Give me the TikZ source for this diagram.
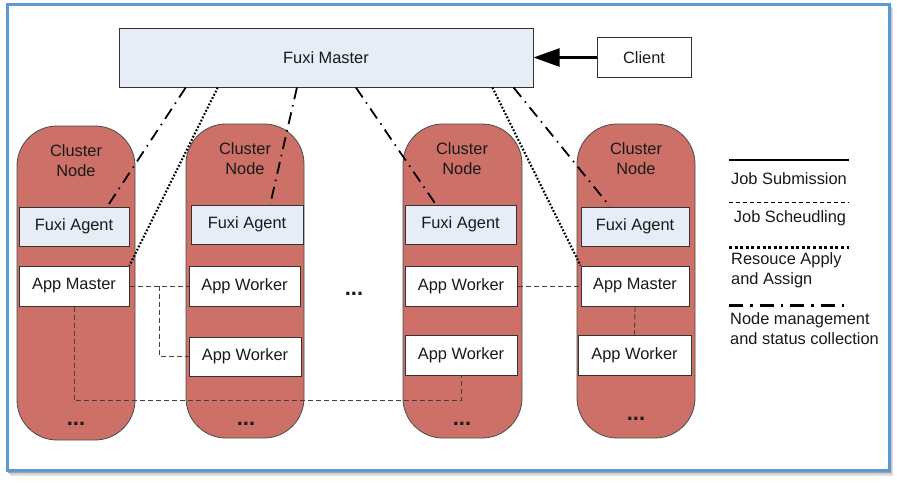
\documentclass[tikz,border=0pt]{standalone}
\usepackage{fontspec}
\setmainfont{Liberation Sans}
\usetikzlibrary{arrows.meta,calc}
\definecolor{frameblue}{RGB}{91,155,213}
\definecolor{capsulered}{RGB}{205,112,103}
\definecolor{lightblue}{RGB}{230,237,247}
\begin{document}
\begin{tikzpicture}[x=1pt,y=-1pt,
  every node/.style={font=\fontsize{16.4}{20}\selectfont, text=black!90, inner sep=0pt},
  capsule/.style={draw=black!70, line width=0.8pt, fill=capsulered, rounded corners=40pt, minimum width=118pt, minimum height=314pt},
  agentbox/.style={draw=black!80, line width=1pt, fill=lightblue, minimum height=39pt},
  appbox/.style={draw=black!80, line width=1pt, fill=white, minimum height=40pt},
  dots/.style={font=\fontsize{22}{22}\selectfont\bfseries, anchor=base},
  nodemgmt/.style={line width=1.8pt, dash pattern=on 12pt off 6pt on 1.5pt off 6pt},
  resapply/.style={line width=2.1pt, dash pattern=on 1.8pt off 1.8pt},
  jobsched/.style={line width=0.9pt, draw=black!75, dash pattern=on 5pt off 3pt},
  ]
\useasboundingbox (0,0) rectangle (897,482);
% frame shadow
\fill[black!12] (10,8) rectangle (893,476);
\fill[black!22] (9,7) rectangle (892,474);
\fill[black!35] (8,6) rectangle (891,472.5);
% frame
\draw[frameblue, line width=3pt, fill=white] (7,4) rectangle (889,470);

% master and client
\node[agentbox, minimum width=414pt, minimum height=59pt] (master) at (326,57.5) {Fuxi Master};
\node[appbox, minimum width=94pt, minimum height=40pt] (client) at (644,57.5) {Client};

% cluster nodes
\node[capsule] (cn1) at (76,283) {};
\node[capsule] (cn2) at (245,281) {};
\node[capsule, minimum width=119pt] (cn3) at (462.5,281) {};
\node[capsule] (cn4) at (636,281) {};

\node[align=center] (cl1) at (76,161) {Cluster\\Node};
\node[align=center] (cl2) at (245,159) {Cluster\\Node};
\node[align=center] (cl3) at (462,159) {Cluster\\Node};
\node[align=center] (cl4) at (636,159) {Cluster\\Node};

% agents
\node[agentbox, minimum width=110pt] (ag1) at (74,226.5) {Fuxi Agent};
\node[agentbox, minimum width=112pt] (ag2) at (247,224.5) {Fuxi Agent};
\node[agentbox, minimum width=111pt] (ag3) at (460.5,224.5) {Fuxi Agent};
\node[agentbox, minimum width=108pt] (ag4) at (635,226.5) {Fuxi Agent};

% app boxes
\node[appbox, minimum width=110pt] (am1) at (74,286) {App Master};
\node[appbox, minimum width=111pt] (aw2a) at (244.5,286) {App Worker};
\node[appbox, minimum width=112pt, minimum height=39pt] (aw2b) at (245,356.5) {App Worker};
\node[appbox, minimum width=112pt] (aw3a) at (461,286) {App Worker};
\node[appbox, minimum width=112pt] (aw3b) at (461,355) {App Worker};
\node[appbox, minimum width=108pt] (am4) at (635,286) {App Master};
\node[appbox, minimum width=113pt] (aw4) at (634.5,355) {App Worker};

% ellipses
\node[dots] (d1) at (76,425) {...};
\node[dots] (d2) at (246,425) {...};
\node[dots] (d3) at (462,425) {...};
\node[dots] (d4) at (636,420) {...};
\node[dots] (dm) at (354,295) {...};

% job submission
\draw[line width=2.5pt, -{Triangle[length=26pt,width=18pt]}] (client.west) -- (master.east |- client.west);

% node management
\draw[nodemgmt] ($(master.south west)!0.162!(master.south east)$) -- ($(ag1.north west)!0.8!(ag1.north east)$);
\draw[nodemgmt] ($(master.south west)!0.430!(master.south east)$) -- ($(ag2.north west)!0.705!(ag2.north east)$);
\draw[nodemgmt] ($(master.south west)!0.572!(master.south east)$) -- ($(ag3.north west)!0.28!(ag3.north east)$);
\draw[nodemgmt] ($(master.south west)!0.952!(master.south east)$) -- ($(ag4.north west)!0.27!(ag4.north east)$);

% resource apply
\draw[resapply] ($(master.south west)!0.239!(master.south east)$) -- (am1.north east);
\draw[resapply] ($(master.south west)!0.901!(master.south east)$) -- (am4.north west);

% job scheduling
\draw[jobsched] (am1.east) -- (aw2a.west);
\draw[jobsched] ($(am1.east)!0.5!(aw2a.west)$) |- (aw2b.west);
\draw[jobsched] (am1.south) |- ($(aw3b.south)+(0,25)$) -- (aw3b.south);
\draw[jobsched] (aw3a.east) -- (am4.west);
\draw[jobsched] (am4.south) -- (aw4.north);

% legend
\coordinate (la1) at (729,160); \coordinate (lb1) at (849,160);
\coordinate (la2) at (729,202); \coordinate (lb2) at (849,202);
\coordinate (la3) at (729,247); \coordinate (lb3) at (849,247);
\coordinate (la4) at (729,305); \coordinate (lb4) at (851,305);
\draw[line width=2.8pt] (la1) -- (lb1);
\draw[line width=0.8pt, dash pattern=on 4pt off 3pt] (la2) -- (lb2);
\draw[line width=3pt, dash pattern=on 3pt off 2.6pt] (la3) -- (lb3);
\draw[line width=3pt, dash pattern=on 14pt off 7pt on 2.5pt off 7pt] (la4) -- (lb4);
\node (t1) at (789,179) {Job Submission};
\node (t2) at (790,218) {Job Scheudling};
\node[anchor=west, align=left] (t3) at (731,270) {Resouce Apply\\and Assign};
\node[anchor=west, align=left] (t4) at (730,329) {Node management\\and status collection};
\end{tikzpicture}
\end{document}
